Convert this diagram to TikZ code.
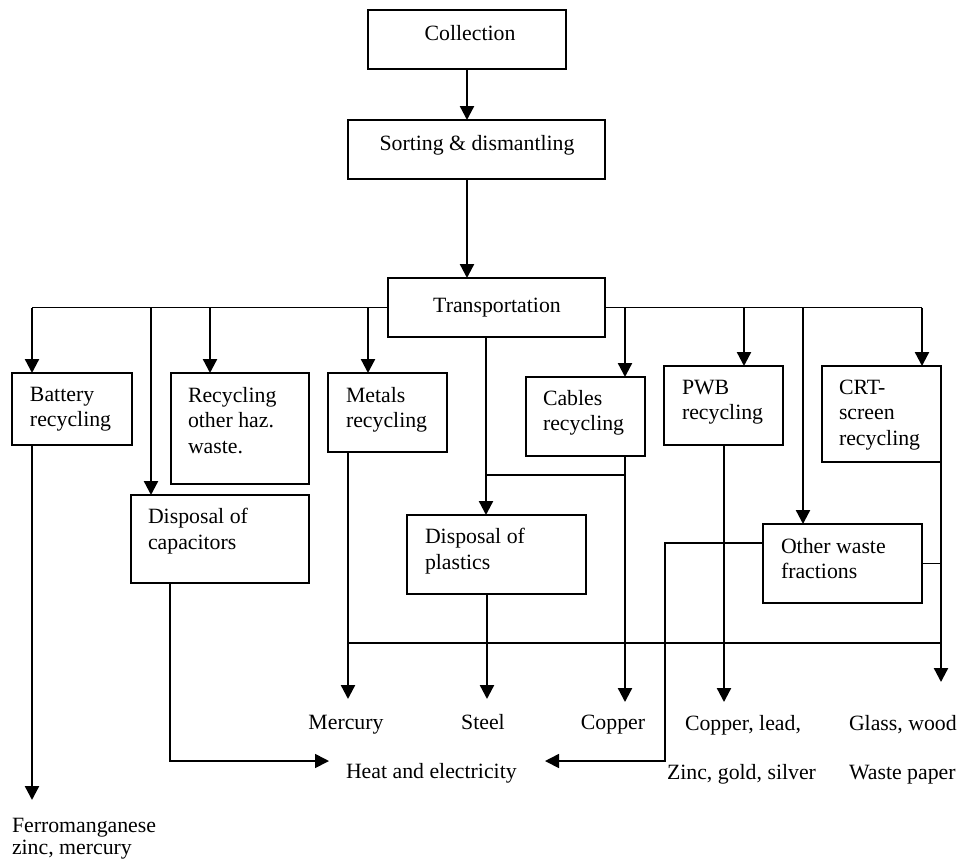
\documentclass[tikz,border=0pt]{standalone}
\usepackage{fontspec}
\setmainfont{Liberation Serif}
\usetikzlibrary{arrows.meta}
\newcommand{\mkbox}[5]{\node[box, anchor=north west, minimum width={(#4-#2)*0.5pt}, minimum height={(#5-#3)*0.5pt}] (#1) at (#2,#3) {};}
\begin{document}
\begin{tikzpicture}[x=0.5pt,y=-0.5pt,
  box/.style={draw, line width=0.85pt, rectangle, inner sep=0pt, outer sep=0pt},
  txt/.style={inner sep=0pt, outer sep=0pt, align=left, font=\fontsize{10.9pt}{12.75pt}\selectfont},
  arr/.style={line width=1.15pt, -{Triangle[width=7pt,length=7pt]}},
  arrln/.style={line width=0.85pt, -{Triangle[width=7pt,length=7pt]}},
  ln/.style={line width=0.75pt}]
\useasboundingbox (0,0) rectangle (959,859);

% boxes
\mkbox{col}{368}{10}{566}{69}
\mkbox{sort}{348}{120}{605}{179}
\mkbox{trans}{388}{278}{605}{337}
\mkbox{bat}{12}{373}{132}{445}
\mkbox{haz}{171}{373}{309}{484}
\mkbox{met}{328}{373}{447}{452}
\mkbox{cap}{131}{495}{309}{583}
\mkbox{cab}{526}{377}{645}{456}
\mkbox{pwb}{664}{366}{783}{445}
\mkbox{crt}{822}{366}{941}{462}
\mkbox{pla}{407}{515}{586}{594}
\mkbox{oth}{763}{524}{922}{603}

% box texts (base anchor = baseline of the last line)
\node[txt, anchor=base] (colT) at (470,40) {Collection};
\node[txt, anchor=base] (sortT) at (477,150) {Sorting \& dismantling};
\node[txt, anchor=base] (transT) at (497,312) {Transportation};
\node[txt, anchor=base west] (batT) at (30,426.5) {Battery\\recycling};
\node[txt, anchor=base west] (hazT) at (188,453) {Recycling\\other haz.\\waste.};
\node[txt, anchor=base west] (metT) at (346,427.5) {Metals\\recycling};
\node[txt, anchor=base west] (cabT) at (543,430.5) {Cables\\recycling};
\node[txt, anchor=base west] (pwbT) at (682,419.5) {PWB\\recycling};
\node[txt, anchor=base west] (crtT) at (839,445) {CRT-\\screen\\recycling};
\node[txt, anchor=base west] (capT) at (148,549) {Disposal of\\capacitors};
\node[txt, anchor=base west] (plaT) at (425,569) {Disposal of\\plastics};
\node[txt, anchor=base west] (othT) at (781,578.5) {Other waste\\fractions};

% output texts
\node[txt, anchor=base] (merc) at (346,729) {Mercury};
\node[txt, anchor=base] (steel) at (483,729) {Steel};
\node[txt, anchor=base] (copper) at (613,729) {Copper};
\node[txt, anchor=base west] (cpl) at (685,730) {Copper, lead,};
\node[txt, anchor=base west] (zgs) at (667,779) {Zinc, gold, silver};
\node[txt, anchor=base west] (gw) at (849,730) {Glass, wood};
\node[txt, anchor=base west] (wp) at (849,779) {Waste paper};
\node[txt, anchor=base west] (heat) at (346,778) {Heat and electricity};
\node[txt, anchor=base west] (ferro) at (12,832) {Ferromanganese};
\node[txt, anchor=base west] (zm) at (12,854) {zinc, mercury};

% coordinates
\coordinate (busL) at (32,307.5);
\coordinate (busR) at (922,307.5);
\coordinate (xCap) at (151,0);
\coordinate (xHaz) at (210,0);
\coordinate (xMet) at (368,0);
\coordinate (xTp) at (486,0);
\coordinate (xCab) at (625,0);
\coordinate (xPwb) at (744,0);
\coordinate (xOth) at (803,0);
\coordinate (tFerro) at (32,800);
\coordinate (tMerc) at (348,699);
\coordinate (tSteel) at (487,699);
\coordinate (tCop) at (625,702);
\coordinate (tPwb) at (724,702);
\coordinate (tGlass) at (941,682);
\coordinate (crtOut) at (941,444);
\coordinate (jPla) at (486,475);
\coordinate (hL) at (348,643);
\coordinate (hR) at (941,643);
\coordinate (othL) at (763,543);
\coordinate (bendR) at (665,761);
\coordinate (heatR) at (545,761);
\coordinate (capOut) at (170,583);
\coordinate (heatL) at (329,761);

% top chain
\draw[arr] (col.south) -- (col.south |- sort.north);
\draw[arr] (col.south |- sort.south) -- (col.south |- trans.north);

% distribution bus
\draw[ln] (trans.west) -- (busL);
\draw[ln] (trans.east) -- (busR);
\draw[arr] (busL) -- (busL |- bat.north);
\draw[arr] (xCap |- busL) -- (xCap |- cap.north);
\draw[arr] (xHaz |- busL) -- (xHaz |- haz.north);
\draw[arr] (xMet |- busL) -- (xMet |- met.north);
\draw[arr] (xCab |- busL) -- (xCab |- cab.north);
\draw[arr] (xPwb |- busL) -- (xPwb |- pwb.north);
\draw[arr] (xOth |- busL) -- (xOth |- oth.north);
\draw[arr] (busR) -- (busR |- crt.north);
\draw[arr] (xTp |- trans.south) -- (xTp |- pla.north);

% outputs
\draw[arr] (tFerro |- bat.south) -- (tFerro);
\draw[arr] (tMerc |- met.south) -- (tMerc);
\draw[arr] (tSteel |- pla.south) -- (tSteel);
\draw[arr] (tCop |- cab.south) -- (tCop);
\draw[arr] (tPwb |- pwb.south) -- (tPwb);
\draw[arr] (crtOut) -- (tGlass);
\draw[ln] (jPla) -- (tCop |- jPla);
\draw[ln] (hL) -- (hR);
\draw[ln] (oth.east) -- (oth.east -| tGlass);
\draw[arrln] (othL) -| (bendR) -- (heatR);
\draw[arrln] (capOut) |- (heatL);
\end{tikzpicture}
\end{document}
